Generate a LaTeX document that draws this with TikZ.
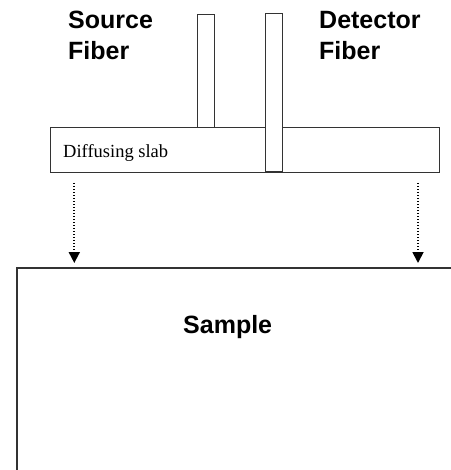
\documentclass[tikz,border=0pt]{standalone}
\usepackage{fontspec}
\setmainfont{Liberation Serif}
\setsansfont{Liberation Sans}
\usetikzlibrary{arrows.meta}
\begin{document}
\begin{tikzpicture}[x=1pt,y=-1pt,
  box/.style={draw=black!80,line width=1pt,fill=white,inner sep=0pt,outer sep=0pt,rectangle},
  biglabel/.style={font=\sffamily\bfseries\fontsize{25}{31}\selectfont,align=left,inner sep=0pt,anchor=base west},
  dotarrow/.style={line width=1.8pt,dash pattern=on 1.4pt off 1.6pt,-{Triangle[length=11pt,width=11pt]}}]
\useasboundingbox (0,0) rectangle (450,470);
% slab
\node[box,minimum width=389pt,minimum height=45pt,anchor=north west] (slab) at (50,128) {};
\node[font=\fontsize{18.5}{22}\selectfont,anchor=base west,inner sep=0pt] (slablabel) at (63,158) {Diffusing slab};
% fibers
\node[box,minimum width=17pt,minimum height=113pt,anchor=north west] (source) at (197,15) {};
\node[box,minimum width=17pt,minimum height=158pt,anchor=north west] (detector) at (265,14) {};
% labels
\node[biglabel] (srclabel) at (68,60) {Source\\Fiber};
\node[biglabel] (detlabel) at (319,60) {Detector\\Fiber};
% sample
\coordinate (sampleBL) at (17,470);
\coordinate (sampleTL) at (17,268);
\coordinate (sampleTR) at (451,268);
\draw[draw=black!80,line width=1.5pt] (sampleBL) -- (sampleTL) -- (sampleTR);
\node[font=\sffamily\bfseries\fontsize{25}{30}\selectfont,anchor=base west,inner sep=0pt] (samplelabel) at (183,333) {Sample};
% arrows
\coordinate (a1s) at (74.3,183);
\coordinate (a1e) at (74.3,263);
\coordinate (a2s) at (418,183);
\coordinate (a2e) at (418,263);
\draw[dotarrow] (a1s) -- (a1e);
\draw[dotarrow] (a2s) -- (a2e);
\end{tikzpicture}
\end{document}
